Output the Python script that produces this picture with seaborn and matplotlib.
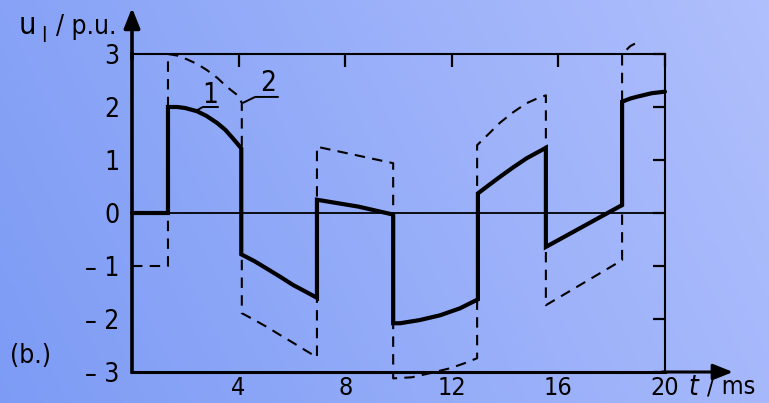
import numpy as np
import pandas as pd
import matplotlib
matplotlib.use("Agg")
import matplotlib.pyplot as plt
import seaborn as sns

# ---- data (t in ms, u_l in p.u.) ----
# curve 1 (solid)
t1 = [0.0, 1.35,
      1.35, 1.7, 2.0, 2.44, 2.8, 3.19, 3.5, 3.8, 4.1,
      4.1, 4.6, 5.06, 5.55, 6.05, 6.5, 6.94,
      6.94, 8.5, 9.8,
      9.8, 10.06, 10.8, 11.56, 12.3, 12.98,
      12.98, 13.4, 13.8, 14.3, 14.8, 15.2, 15.53,
      15.53, 18.39,
      18.39, 18.7, 19.0, 19.5, 20.0]
u1 = [0.0, 0.0,
      2.0, 2.0, 1.98, 1.92, 1.83, 1.7, 1.57, 1.4, 1.22,
      -0.78, -0.91, -1.05, -1.2, -1.36, -1.48, -1.6,
      0.25, 0.12, -0.03,
      -2.08, -2.08, -2.02, -1.93, -1.8, -1.63,
      0.37, 0.53, 0.68, 0.86, 1.03, 1.14, 1.23,
      -0.64, 0.15,
      2.1, 2.16, 2.2, 2.26, 2.29]
# curve 2 (dashed)
t2 = [0.0, 1.35,
      1.35, 1.7, 2.06, 2.45, 2.8, 3.2, 3.56, 3.94, 4.12,
      4.12, 4.6, 5.06, 5.55, 6.05, 6.5, 6.94,
      6.94, 9.8,
      9.8, 10.5, 11.2, 11.93, 12.45, 12.95,
      12.95, 13.4, 13.8, 14.3, 14.8, 15.2, 15.53,
      15.53, 18.39,
      18.39, 18.7, 19.0]
u2 = [-1.0, -1.0,
      3.0, 2.97, 2.9, 2.81, 2.7, 2.55, 2.38, 2.23, 2.08,
      -1.89, -2.02, -2.15, -2.3, -2.45, -2.59, -2.72,
      1.25, 0.94,
      -3.12, -3.1, -3.02, -2.93, -2.84, -2.74,
      1.28, 1.5, 1.7, 1.9, 2.07, 2.16, 2.22,
      -1.74, -0.89,
      3.0, 3.15, 3.23]

x_ticks = [4, 8, 12, 16, 20]
x_ticklabels = ["4", "8", "12", "16", "20"]
y_ticks = [-3, -2, -1, 0, 1, 2, 3]
y_ticklabels = ["\u2013 3", "\u2013 2", "\u2013 1", "0", "1", "2", "3"]
curve_labels = ["1", "2"]

sns.set_theme(style="white")
plt.rcParams["font.family"] = ["DejaVu Sans"]
plt.rcParams["font.stretch"] = "condensed"
plt.rcParams["text.color"] = "black"

W, H = 769, 403
fig = plt.figure(figsize=(W / 100, H / 100), dpi=100)

# background gradient
bg = fig.add_axes([0, 0, 1, 1], zorder=-10)
gx = np.linspace(0, 1, 200)[None, :]
gy = np.linspace(0, 1, 100)[:, None]
c_left = np.array([0.49, 0.61, 0.96])
c_right = np.array([0.69, 0.75, 0.99])
frac = np.clip(0.8 * gx + 0.2 * (1 - gy), 0, 1)
img = c_left[None, None, :] * (1 - frac[..., None]) + c_right[None, None, :] * frac[..., None]
bg.imshow(img, aspect="auto", extent=[0, 1, 0, 1], origin="upper")
bg.axis("off")

def px(x, y):
    return x / W, 1 - y / H

L, R, T, B = 132, 665, 54, 372
ax = fig.add_axes([L / W, 1 - B / H, (R - L) / W, (B - T) / H])
ax.set_facecolor("none")

df1 = pd.DataFrame({"t": t1, "u": u1})
df2 = pd.DataFrame({"t": t2, "u": u2})
sns.lineplot(data=df2, x="t", y="u", sort=False, estimator=None, ax=ax,
             color="black", lw=1.5, linestyle=(0, (5, 3.5)), clip_on=False)
sns.lineplot(data=df1, x="t", y="u", sort=False, estimator=None, ax=ax,
             color="black", lw=3.0, clip_on=False, solid_joinstyle="miter")

ax.axhline(0, color="black", lw=1.3, zorder=1)
ax.set_xlim(0, 20)
ax.set_ylim(-3, 3)
ax.set_xlabel("")
ax.set_ylabel("")
ax.set_xticks(x_ticks)
ax.set_xticklabels(x_ticklabels)
ax.set_yticks(y_ticks)
ax.set_yticklabels(y_ticklabels)
ax.tick_params(axis="both", direction="in", length=9, width=1.6, color="black",
               top=True, right=True, labelsize=19, labelcolor="black")
ax.tick_params(axis="x", pad=3, labelsize=18)
ax.tick_params(axis="y", pad=9)
for s in ax.spines.values():
    s.set_color("black")
ax.spines["left"].set_linewidth(2.6)
ax.spines["bottom"].set_linewidth(2.2)
ax.spines["top"].set_linewidth(1.5)
ax.spines["right"].set_linewidth(1.5)

# axis arrows
ax.annotate("", xy=(0, 3.87), xytext=(0, 2.9), xycoords="data",
            arrowprops=dict(arrowstyle="-|>,head_length=1.0,head_width=0.4",
                            color="black", lw=2.6, shrinkA=0, shrinkB=0),
            annotation_clip=False)
ax.annotate("", xy=(22.55, -3), xytext=(19.9, -3), xycoords="data",
            arrowprops=dict(arrowstyle="-|>,head_length=1.0,head_width=0.4",
                            color="black", lw=2.2, shrinkA=0, shrinkB=0),
            annotation_clip=False)

# curve leaders
ax.plot([2.44, 2.66, 3.23], [1.94, 2.0, 2.0], color="black", lw=1.4, clip_on=False)
ax.text(2.93, 2.23, curve_labels[0], fontsize=20, ha="center", va="center")
ax.plot([4.17, 4.62, 5.48], [2.08, 2.19, 2.19], color="black", lw=1.4, clip_on=False)
ax.text(5.1, 2.45, curve_labels[1], fontsize=20, ha="center", va="center")

# axis titles
fig.text(*px(19, 25), "u", fontsize=22, ha="left", va="center")
fig.text(*px(41, 36), "l", fontsize=16, ha="left", va="center")
fig.text(*px(56, 27), "/ p.u.", fontsize=19, ha="left", va="center")
fig.text(*px(688, 387), "t", fontsize=20, ha="left", va="center", style="italic")
fig.text(*px(707, 387), "/ ms", fontsize=18, ha="left", va="center")
fig.text(*px(10, 356), "(b.)", fontsize=19, ha="left", va="center")

fig.savefig("out.png", dpi=100)
